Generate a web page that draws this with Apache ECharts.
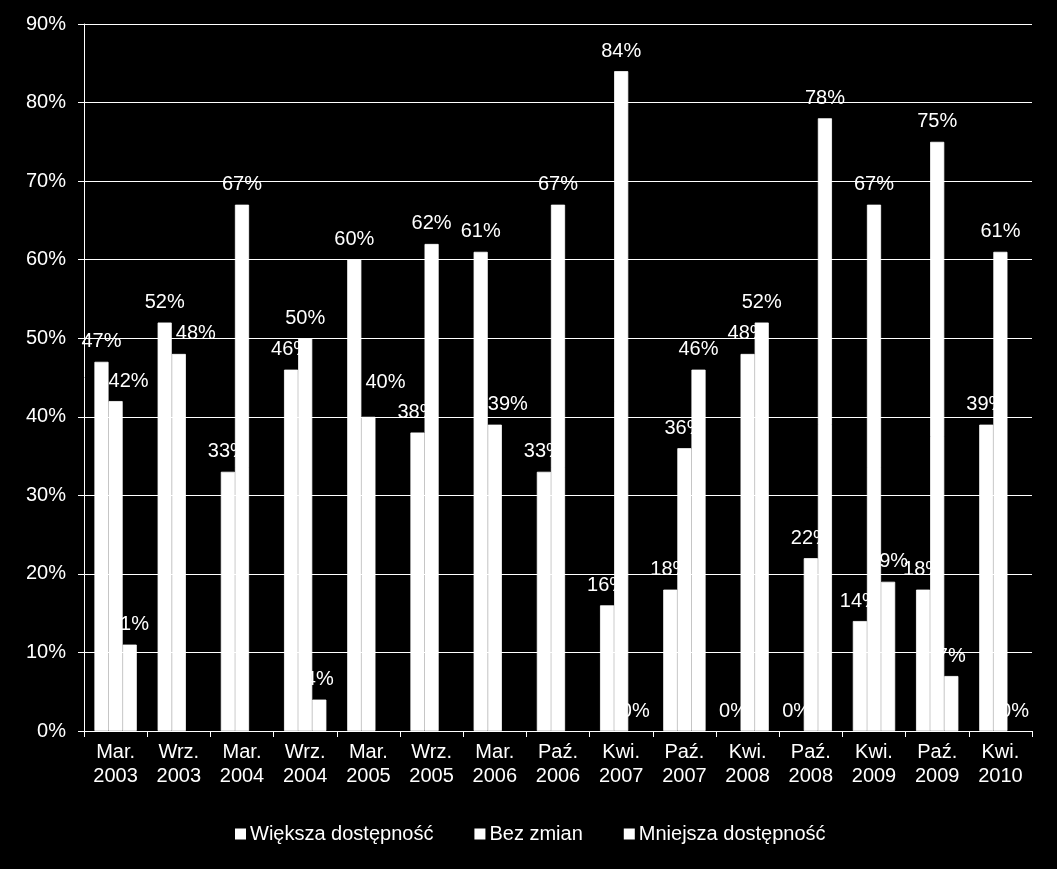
<!DOCTYPE html>
<html>
<head>
<meta charset="utf-8">
<script src="https://cdn.jsdelivr.net/npm/echarts@6/dist/echarts.min.js"></script>
<style>
html,body{margin:0;padding:0;background:#000;}
#chart{width:1057px;height:869px;}
</style>
</head>
<body>
<div id="chart"></div>
<script>
var categories = ['Mar.\n2003','Wrz.\n2003','Mar.\n2004','Wrz.\n2004','Mar.\n2005','Wrz.\n2005','Mar.\n2006','Paź.\n2006','Kwi.\n2007','Paź.\n2007','Kwi.\n2008','Paź.\n2008','Kwi.\n2009','Paź.\n2009','Kwi.\n2010'];
var seriesNames = ['Większa dostępność','Bez zmian','Mniejsza dostępność'];
var wieksza = [47,52,33,46,60,38,61,33,16,18,0,0,14,18,39];
var bezZmian = [42,48,67,50,40,62,39,67,84,36,48,22,67,75,61];
var mniejsza = [11,null,null,4,null,null,null,null,0,46,52,78,19,7,0];
var yTicks = [0,10,20,30,40,50,60,70,80,90];

// label placement tweaks (layout only): series index -> category index -> [dx, dy]
var labelNudges = {1: {0: [13, 0], 1: [17, 0], 4: [17, -14], 6: [13, 0]}};

var FONT = 'Liberation Sans';
var FS = 20;
var allData = [wieksza, bezZmian, mniejsza];

var series = [];
// visible white bars (drawn above labels)
allData.forEach(function(d, i){
  var items = d.map(function(v){
    if (v === 0) return {value: v, itemStyle: {borderWidth: 0}};
    return v;
  });
  series.push({
    name: seriesNames[i], type: 'bar', xAxisIndex: 0, yAxisIndex: 0,
    data: items, z: 3, barGap: '0%', barCategoryGap: '33%',
    itemStyle: {color: '#ffffff', borderColor: '#ffffff', borderWidth: 0.8},
    label: {show: false}
  });
});
// label carriers (transparent bars beneath, so labels are covered by bars)
allData.forEach(function(d, i){
  var items = d.map(function(v, j){
    var n = labelNudges[i] && labelNudges[i][j];
    if (n && v !== null) return {value: v, label: {offset: n}};
    return v;
  });
  series.push({
    name: seriesNames[i], type: 'bar', xAxisIndex: 1, yAxisIndex: 0,
    data: items, z: 1, barGap: '0%', barCategoryGap: '33%',
    itemStyle: {color: 'rgba(0,0,0,0)'},
    label: {show: true, position: 'top', distance: 10, color: '#ffffff',
      fontFamily: FONT, fontSize: FS, formatter: '{c}%'}
  });
});

var chart = echarts.init(document.getElementById('chart'));
chart.setOption({
  animation: false,
  backgroundColor: '#000000',
  grid: {left: 84, right: 25, top: 24, bottom: 138},
  legend: {
    data: seriesNames.map(function(n){ return {name: n, itemStyle: {color: '#ffffff'}}; }),
    bottom: 20, left: 230, icon: 'rect', itemWidth: 9, itemHeight: 9, itemGap: 41,
    textStyle: {color: '#ffffff', fontFamily: FONT, fontSize: FS},
    selectedMode: false
  },
  xAxis: [{
    type: 'category', data: categories,
    axisLine: {show: true, lineStyle: {color: '#ffffff', width: 1}},
    axisTick: {show: true, length: 6, lineStyle: {color: '#ffffff'}},
    axisLabel: {color: '#ffffff', fontFamily: FONT, fontSize: FS, lineHeight: 24, margin: 9, interval: 0}
  },{
    type: 'category', data: categories, show: false, position: 'bottom'
  }],
  yAxis: {
    type: 'value', min: yTicks[0], max: yTicks[yTicks.length-1], interval: 10,
    axisLine: {show: true, lineStyle: {color: '#ffffff', width: 1}},
    axisTick: {show: true, length: 6, lineStyle: {color: '#ffffff'}},
    splitLine: {show: true, lineStyle: {color: '#ffffff', width: 1}},
    axisLabel: {color: '#ffffff', fontFamily: FONT, fontSize: FS, margin: 18, formatter: '{value}%'}
  },
  series: series
});
</script>
</body>
</html>
